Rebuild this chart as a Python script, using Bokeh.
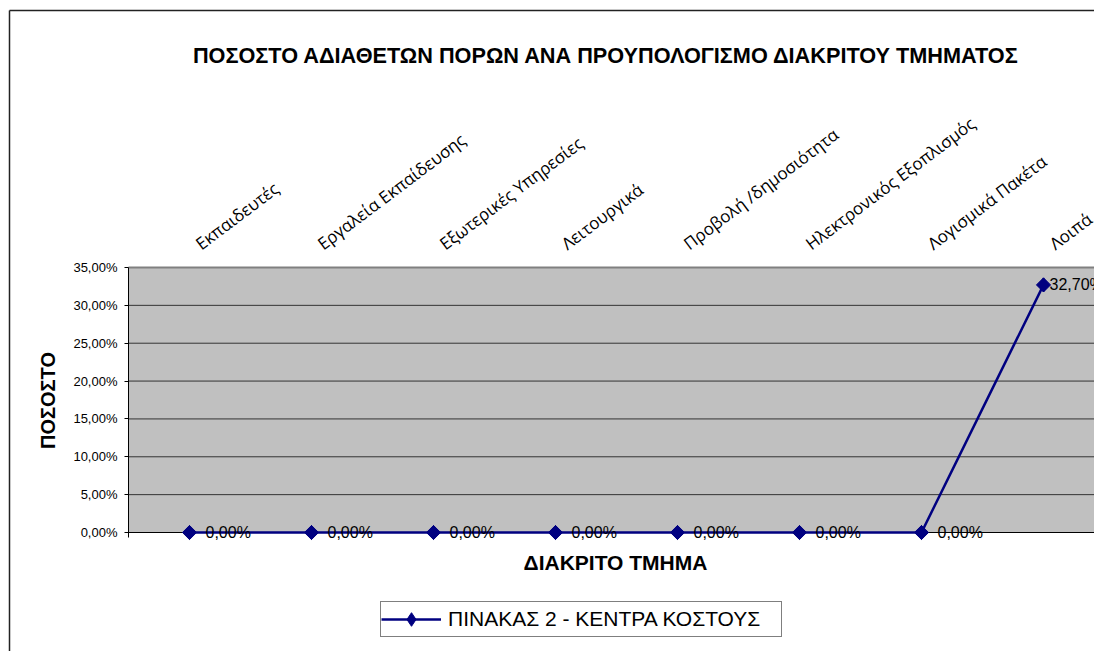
from bokeh.plotting import figure
from bokeh.models import (Range1d, FixedTicker, CustomJSTickFormatter, LinearAxis,
                          Label, LabelSet, ColumnDataSource, Legend, LegendItem)
from bokeh.core.properties import value
from bokeh.embed import file_html
from bokeh.resources import INLINE
import numpy as np

categories = ["Εκπαιδευτές", "Εργαλεία Εκπαίδευσης", "Εξωτερικές Υπηρεσίες", "Λειτουργικά",
              "Προβολή /δημοσιότητα", "Ηλεκτρονικός Εξοπλισμός", "Λογισμικά Πακέτα", "Λοιπά"]
values = [0.0, 0.0, 0.0, 0.0, 0.0, 0.0, 0.0, 0.327]
y_ticks = [0.0, 0.05, 0.10, 0.15, 0.20, 0.25, 0.30, 0.35]
series_name = "ΠΙΝΑΚΑΣ 2 - ΚΕΝΤΡΑ ΚΟΣΤΟΥΣ"
title_text = "ΠΟΣΟΣΤΟ ΑΔΙΑΘΕΤΩΝ ΠΟΡΩΝ ΑΝΑ ΠΡΟΥΠΟΛΟΓΙΣΜΟ ΔΙΑΚΡΙΤΟΥ ΤΜΗΜΑΤΟΣ"
x_title = "ΔΙΑΚΡΙΤΟ ΤΜΗΜΑ"
y_title = "ΠΟΣΟΣΤΟ"

# layout (canvas pixels); the frame covers the whole canvas
W, H = 1094, 651
AREA_LEFT, AREA_TOP, ZERO_Y = 128, 267, 532
CAT_W = 122
YMAX = max(y_ticks)
PX = (ZERO_Y - AREA_TOP) / YMAX
NCAT = len(categories)

def xp(px):
    return (px - AREA_LEFT) / CAT_W

def yp(py):
    return YMAX + (AREA_TOP - py) / PX

p = figure(width=W, height=H, output_backend="svg", toolbar_location=None, title=None,
           x_axis_location=None, y_axis_location=None,
           x_range=Range1d(xp(0), xp(W)), y_range=Range1d(yp(H), yp(0)),
           min_border=0, min_border_left=0, min_border_right=0, min_border_top=0, min_border_bottom=0)
p.outline_line_color = None
p.background_fill_color = "white"
p.border_fill_color = "white"
p.xgrid.visible = False
p.ygrid.visible = False

# outer chart border (left and top visible; the rest lies outside the view)
far_r, far_b = xp(W + 100), yp(H + 100)
p.segment(x0=[xp(9), xp(9)], x1=[xp(9), far_r], y0=[yp(10), yp(10)], y1=[far_b, yp(10)],
          line_color="#222222", line_width=1.5)

# plot area
p.quad(left=[0], right=[NCAT + 2], bottom=[0], top=[YMAX], fill_color="#C0C0C0", line_color=None)
grid_y = y_ticks[1:-1]
p.segment(x0=[0] * len(grid_y), x1=[NCAT + 2] * len(grid_y), y0=grid_y, y1=grid_y,
          line_color="#333333", line_width=1)
p.segment(x0=[0], x1=[NCAT + 2], y0=[YMAX], y1=[YMAX], line_color="#808080", line_width=2)
p.segment(x0=[0], x1=[NCAT + 2], y0=[0], y1=[0], line_color="black", line_width=1)

ax = LinearAxis(fixed_location=0, bounds=(-5 / PX, YMAX))
ax.ticker = FixedTicker(ticks=y_ticks)
ax.formatter = CustomJSTickFormatter(code="return (tick*100).toFixed(2).replace('.', ',') + '%';")
ax.axis_line_color = "black"
ax.major_tick_out = 4
ax.major_tick_in = 0
ax.minor_tick_out = 0
ax.minor_tick_in = 0
ax.major_tick_line_color = "black"
ax.major_label_standoff = 7
ax.major_label_text_font = "Liberation Sans"
ax.major_label_text_font_size = "13px"
ax.major_label_text_color = "black"
p.add_layout(ax, "left")

xs = [i + 0.5 for i in range(NCAT)]
lbls = [("%.2f" % (v * 100)).replace(".", ",") + "%" for v in values]
offs = [16 if v == 0 else 6 for v in values]
src = ColumnDataSource(dict(x=xs, y=values, lbl=lbls, off=offs))

line_r = p.line("x", "y", source=src, line_color="#000080", line_width=2.5)
# diamond markers (also used for the legend sample), overlaid by rotated squares
dia_r = p.scatter("x", "y", source=src, marker="diamond", size=14,
                  fill_color="#000080", line_color="#000080")
sc_r = p.scatter("x", "y", source=src, marker="square", angle=np.pi / 4, size=10,
                 fill_color="#000080", line_color="#000080")

p.add_layout(LabelSet(x="x", y="y", text="lbl", source=src, x_offset="off",
                      text_baseline="middle", text_align="left",
                      text_font=value("Liberation Sans"), text_font_size=value("16px"),
                      text_color="black"))

# category labels (rotated, above plot area)
for i, c in enumerate(categories):
    p.add_layout(Label(x=xs[i], y=yp(245), x_offset=8, text=c, angle=37, angle_units="deg",
                       text_align="left", text_baseline="alphabetic",
                       text_font="Open Sans", text_font_size="17px", text_color="black"))

p.add_layout(Label(x=xp(606), y=yp(55), text=title_text, text_align="center", text_baseline="middle",
                   text_font="Liberation Sans", text_font_style="bold", text_font_size="21.7px",
                   text_color="black"))
p.add_layout(Label(x=xp(615), y=yp(562), text=x_title, text_align="center", text_baseline="middle",
                   text_font="Liberation Sans", text_font_style="bold", text_font_size="21px",
                   text_color="black"))
p.add_layout(Label(x=xp(47), y=yp(400), text=y_title, angle=90, angle_units="deg",
                   text_align="center", text_baseline="middle",
                   text_font="Liberation Sans", text_font_style="bold", text_font_size="20px",
                   text_color="black"))

legend = Legend(items=[LegendItem(label=series_name, renderers=[line_r, dia_r])],
                location=(380, H - 637),
                glyph_width=60, glyph_height=34, label_height=24, label_width=333, label_standoff=7,
                padding=0, spacing=0, margin=0,
                border_line_color="black", border_line_width=1,
                background_fill_color="white", background_fill_alpha=1,
                label_text_font="Liberation Sans", label_text_font_size="21px", label_text_color="black")
p.add_layout(legend)

open("out.html", "w").write(file_html(p, INLINE))
